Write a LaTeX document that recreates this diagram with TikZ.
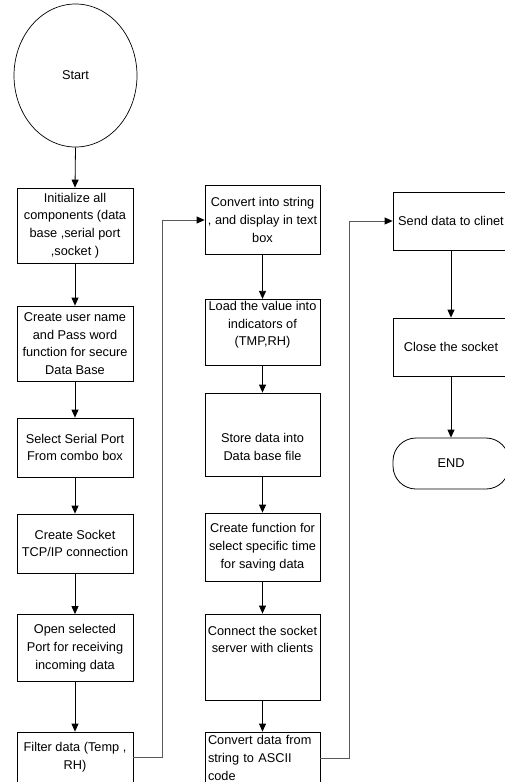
\documentclass[tikz,border=0pt]{standalone}
\usepackage{fontspec}
\setmainfont{Liberation Sans}
\usetikzlibrary{arrows.meta,shapes.geometric}

\begin{document}
\begin{tikzpicture}[x=1pt,y=-1pt,
  every node/.style={font=\fontsize{12.75}{17.7}\selectfont},
  procbox/.style={draw,line width=0.8pt,align=center,inner xsep=2pt,inner ysep=2pt,minimum width=116pt},
  flow/.style={line width=0.8pt,-{Triangle[length=8pt,width=7pt]}},
  link/.style={line width=0.8pt,draw=black!65,-{Triangle[length=8pt,width=7pt,color=black]}}]
\useasboundingbox (0,0) rectangle (505,782);
\node[draw,ellipse,line width=0.7pt,minimum width=123pt,minimum height=143pt] (start) at (75.5,75.5) {Start};
\node[procbox,minimum height=75pt] (init) at (75,225.5) {Initialize all\\components (data\\base ,serial port\\,socket )};
\node[procbox,minimum height=75pt] (login) at (75,343.5) {Create user name\\and Pass word\\function for secure\\Data Base};
\node[procbox,minimum height=59pt] (serial) at (75,447.5) {Select Serial Port\\From combo box};
\node[procbox,minimum height=59pt] (sock) at (75,543.5) {Create Socket\\TCP/IP connection};
\node[procbox,minimum height=67pt] (openport) at (75,648) {Open selected\\Port for receiving\\incoming data};
\node[procbox,minimum height=50pt] (filter) at (75,757) {Filter data (Temp ,\\RH)};
\node[procbox,minimum width=115pt,minimum height=69pt] (convstr) at (262.5,220) {Convert into string\\, and display in text\\box};
\node[procbox,minimum width=115pt,minimum height=65pt] (loadval) at (262.5,332.5) {Load the value into\\indicators of\\(TMP,RH)\\~};
\node[procbox,minimum width=115pt,minimum height=83pt] (store) at (262.5,434.5) {~\\[16pt]Store data into\\Data base file};
\node[procbox,minimum width=115pt,minimum height=68pt] (savetime) at (262.5,547) {Create function for\\select specific time\\for saving data};
\node[procbox,minimum width=115pt,minimum height=86pt] (connsrv) at (262.5,657) {Connect the socket\\server with clients\\~\\~};
\node[procbox,minimum width=115pt,minimum height=52pt,text width=109pt,align=left,inner xsep=3pt] (ascii) at (262.5,758) {Convert data from\\string to ASCII\\code};
\node[procbox,minimum height=58pt] (send) at (451,221) {Send data to clinet};
\node[procbox,minimum height=58pt] (closesock) at (451,347) {Close the socket};
\node[draw,line width=0.8pt,rounded corners=23pt,minimum width=116pt,minimum height=51pt] (finish) at (451,463.5) {END};
\draw[flow] (start.south) -- (init.north);
\foreach \a/\b in {init/login,login/serial,serial/sock,sock/openport,openport/filter,convstr/loadval,loadval/store,store/savetime,savetime/connsrv,connsrv/ascii,send/closesock,closesock/finish}
  \draw[flow] (\a) -- (\b);
\draw[link] (filter.east) -- ++(29,0) |- (convstr.west);
\draw[link] (ascii.east) -- ++(29,0) |- (send.west);
\end{tikzpicture}
\end{document}
